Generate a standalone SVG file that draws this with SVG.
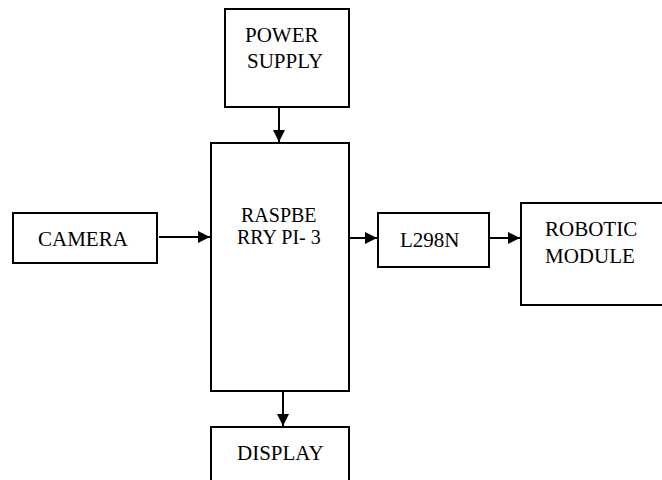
<svg xmlns="http://www.w3.org/2000/svg" width="662" height="480" viewBox="0 0 662 480">
<style>
.box{fill:#fff;stroke:#000;stroke-width:2}
.c{stroke:#000;stroke-width:2;fill:none;marker-end:url(#ah)}
</style>
<defs>
<marker id="ah" markerWidth="6" markerHeight="6" refX="6" refY="3" orient="auto" markerUnits="strokeWidth">
<path d="M0,0 L6,3 L0,6 Z" fill="#000"/>
</marker>
</defs>
<rect width="662" height="480" fill="#fff"/>
<g id="power">
<rect class="box" x="225" y="9" width="124" height="98"/>
<text x="245" y="42" font-size="21" font-family="Liberation Serif, serif">POWER</text>
<text x="247" y="68" font-size="21" font-family="Liberation Serif, serif">SUPPLY</text>
</g>
<g id="raspberry">
<rect class="box" x="211" y="143" width="138" height="248"/>
<text x="241" y="222" font-size="20" font-family="Liberation Serif, serif">RASPBE</text>
<text x="237" y="244" font-size="20" font-family="Liberation Serif, serif">RRY PI- 3</text>
</g>
<g id="camera">
<rect class="box" x="13" y="213" width="144" height="50"/>
<text x="38" y="246" font-size="21" font-family="Liberation Serif, serif">CAMERA</text>
</g>
<g id="l298n">
<rect class="box" x="378" y="213" width="111" height="54"/>
<text x="400" y="247" font-size="21" font-family="Liberation Serif, serif">L298N</text>
</g>
<g id="robotic">
<rect class="box" x="521" y="203" width="150" height="102"/>
<text x="545" y="236" font-size="21" font-family="Liberation Serif, serif">ROBOTIC</text>
<text x="545" y="263" font-size="21" font-family="Liberation Serif, serif">MODULE</text>
</g>
<g id="display">
<rect class="box" x="211" y="427" width="138" height="70"/>
<text x="237" y="460" font-size="21" font-family="Liberation Serif, serif">DISPLAY</text>
</g>
<g id="connectors">
<line class="c" x1="279" y1="107" x2="279" y2="142"/>
<line class="c" x1="159" y1="237" x2="210" y2="237"/>
<line class="c" x1="349" y1="238" x2="377" y2="238"/>
<line class="c" x1="489" y1="238" x2="520" y2="238"/>
<line class="c" x1="283" y1="391" x2="283" y2="426"/>
</g>
</svg>
